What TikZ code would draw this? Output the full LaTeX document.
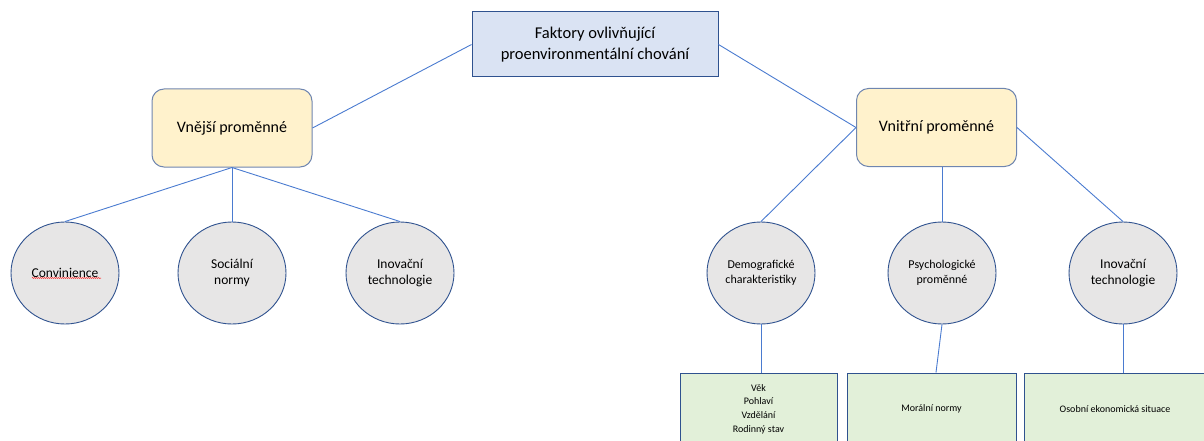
\documentclass[tikz,border=0pt]{standalone}
\usepackage{fontspec}
\setmainfont{Carlito}
\usetikzlibrary{shapes.geometric,decorations.pathmorphing}

\definecolor{linkblue}{HTML}{4A7BD0}
\definecolor{edgeblue}{HTML}{2F528F}
\definecolor{softedge}{HTML}{6F86B0}
\definecolor{headfill}{HTML}{DAE3F3}
\definecolor{groupfill}{HTML}{FFF2CC}
\definecolor{factorfill}{HTML}{E7E6E6}
\definecolor{itemfill}{HTML}{E2F0D9}

\tikzset{
  head/.style={draw=edgeblue, fill=headfill, line width=1pt, minimum width=246pt,
    minimum height=65pt, align=center, font=\fontsize{16.5}{20.5}\selectfont},
  group/.style={draw=softedge, fill=groupfill, line width=1pt, rounded corners=12pt,
    minimum width=160pt, minimum height=78pt, font=\fontsize{16}{19}\selectfont},
  factor/.style={ellipse, draw=edgeblue, fill=factorfill, line width=0.9pt,
    minimum width=108pt, minimum height=102pt, inner sep=0pt, align=center},
  bigtext/.style={font=\fontsize{13.5}{16.5}\selectfont},
  smalltext/.style={font=\fontsize{12}{14.5}\selectfont},
  item/.style={draw=edgeblue, fill=itemfill, line width=1pt, minimum height=72pt,
    align=center, font=\fontsize{10}{13.7}\selectfont},
  link/.style={draw=linkblue, line width=0.9pt}
}

\begin{document}
\begin{tikzpicture}[x=1pt,y=-1pt]
  \useasboundingbox (0,0) rectangle (1204,441);
  \clip (0,0) rectangle (1204,441);

  % top and the two groups
  \node[head] (faktory) at (595,44.5) {Faktory ovlivňující\\proenvironmentální chování};
  \node[group] (vnejsi) at (232,128) {Vnější proměnné};
  \node[group] (vnitrni) at (936.5,127.5) {Vnitřní proměnné};

  % outer variables
  \node[factor, bigtext] (conv) at (65,273) {Convinience};
  \node[factor, bigtext] (socialni) at (232,273) {Sociální\\normy};
  \node[factor, bigtext] (inovL) at (400,273) {Inovační\\technologie};
  \draw[red, line width=0.5pt, decorate, decoration={snake, amplitude=0.5pt, segment length=2pt}]
    ([xshift=-33pt,yshift=-5pt]conv.center) -- ([xshift=36pt,yshift=-5pt]conv.center);

  % inner variables
  \node[factor, smalltext] (demo) at (761,273) {Demografické\\charakteristiky};
  \node[factor, smalltext] (psych) at (942,273) {Psychologické\\proměnné};
  \node[factor, bigtext] (inovR) at (1123,273) {Inovační\\technologie};

  \node[item, minimum width=157pt] (vek) at (758.5,409) {Věk\\Pohlaví\\Vzdělání\\Rodinný stav};
  \node[item, minimum width=169pt] (moral) at (931.5,409) {Morální normy};
  \node[item, minimum width=182pt] (osobni) at (1115,409) {Osobní ekonomická situace};

  % connectors
  \draw[link] (faktory.west) -- (vnejsi.east);
  \draw[link] (faktory.east) -- (vnitrni.west);
  \draw[link] (vnejsi.south) -- (conv.north);
  \draw[link] (vnejsi.south) -- (socialni.north);
  \draw[link] (vnejsi.south) -- (inovL.north);
  \draw[link] (vnitrni.west) -- (demo.north);
  \draw[link] (psych.north |- vnitrni.south) -- (psych.north);
  \draw[link] (vnitrni.east) -- (inovR.north);
  \draw[link] (demo.south) -- (demo.south |- vek.north);
  \draw[link] (psych.south) -- ([xshift=-6pt]psych.south |- moral.north);
  \draw[link] (inovR.south) -- (inovR.south |- osobni.north);
\end{tikzpicture}
\end{document}
